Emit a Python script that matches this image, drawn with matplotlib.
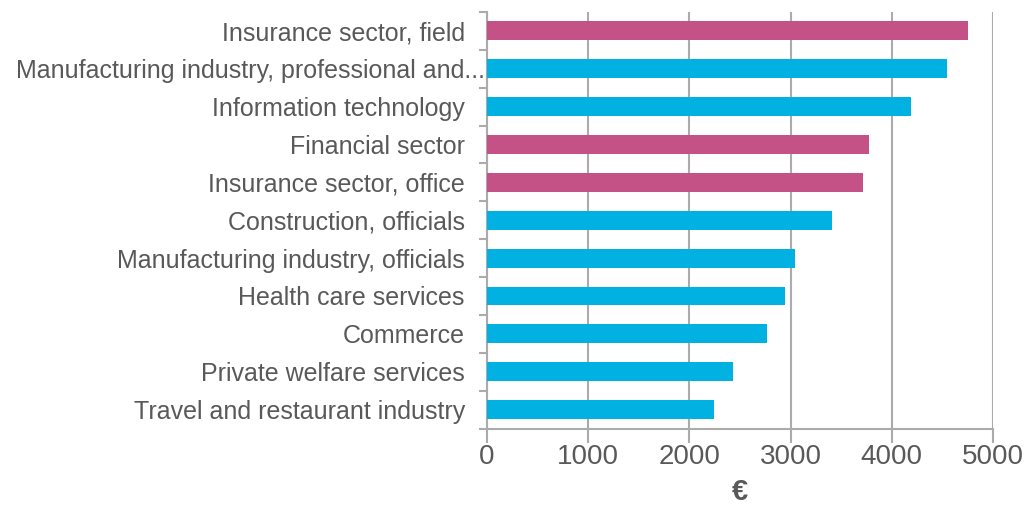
import matplotlib
matplotlib.use("Agg")
import matplotlib.pyplot as plt
import matplotlib.transforms as mtransforms
import numpy as np

categories = [
    "Insurance sector, field",
    "Manufacturing industry, professional and...",
    "Information technology",
    "Financial sector",
    "Insurance sector, office",
    "Construction, officials",
    "Manufacturing industry, officials",
    "Health care services",
    "Commerce",
    "Private welfare services",
    "Travel and restaurant industry",
]
values = [4750, 4550, 4190, 3775, 3715, 3410, 3040, 2945, 2765, 2430, 2240]
highlight = [True, False, False, True, True, False, False, False, False, False, False]
xticks = [0, 1000, 2000, 3000, 4000, 5000]
xlabel = "\u20ac"

MAGENTA = "#C45287"
CYAN = "#00B1E2"
GRID = "#ABABAB"
TEXT = "#595959"

plt.rcParams["font.family"] = ["Liberation Sans", "DejaVu Sans"]

fig = plt.figure(figsize=(10.34, 5.05), dpi=100)
ax = fig.add_axes([487 / 1034, 1 - 428.5 / 505, (993 - 487) / 1034, (428.5 - 12) / 505])

y = np.arange(len(categories))
colors = [MAGENTA if h else CYAN for h in highlight]
ax.barh(y, values, height=0.5, color=colors, zorder=3)

ax.set_ylim(len(categories) - 0.5, -0.5)
ax.set_xlim(0, 5000)
ax.set_xticks(xticks)
ax.set_xticklabels([str(t) for t in xticks], fontsize=20, color=TEXT)
ax.set_yticks(y)
ax.set_yticklabels(categories, fontsize=18, color=TEXT)
ax.set_yticks(np.arange(-0.5, len(categories)), minor=True)
ax.tick_params(axis="y", which="major", length=0, pad=16)
ax.tick_params(axis="y", which="minor", length=6, color=GRID, width=1.5)
ax.tick_params(axis="x", which="major", length=10, color=GRID, width=1.5, pad=1)

# the truncated long label reaches the axis in the reference
for lbl in ax.get_yticklabels():
    if lbl.get_text().endswith("..."):
        lbl.set_transform(lbl.get_transform() + mtransforms.ScaledTranslation(20 / 100, 0, fig.dpi_scale_trans))

ax.grid(axis="x", color=GRID, linewidth=1.5, zorder=0)
for s in ["top", "right"]:
    ax.spines[s].set_visible(False)
for s in ["left", "bottom"]:
    ax.spines[s].set_color(GRID)
    ax.spines[s].set_linewidth(1.5)

ax.set_xlabel(xlabel, fontsize=21, color=TEXT, labelpad=6, fontweight="bold")

fig.savefig("out.png", dpi=100, facecolor="white")
